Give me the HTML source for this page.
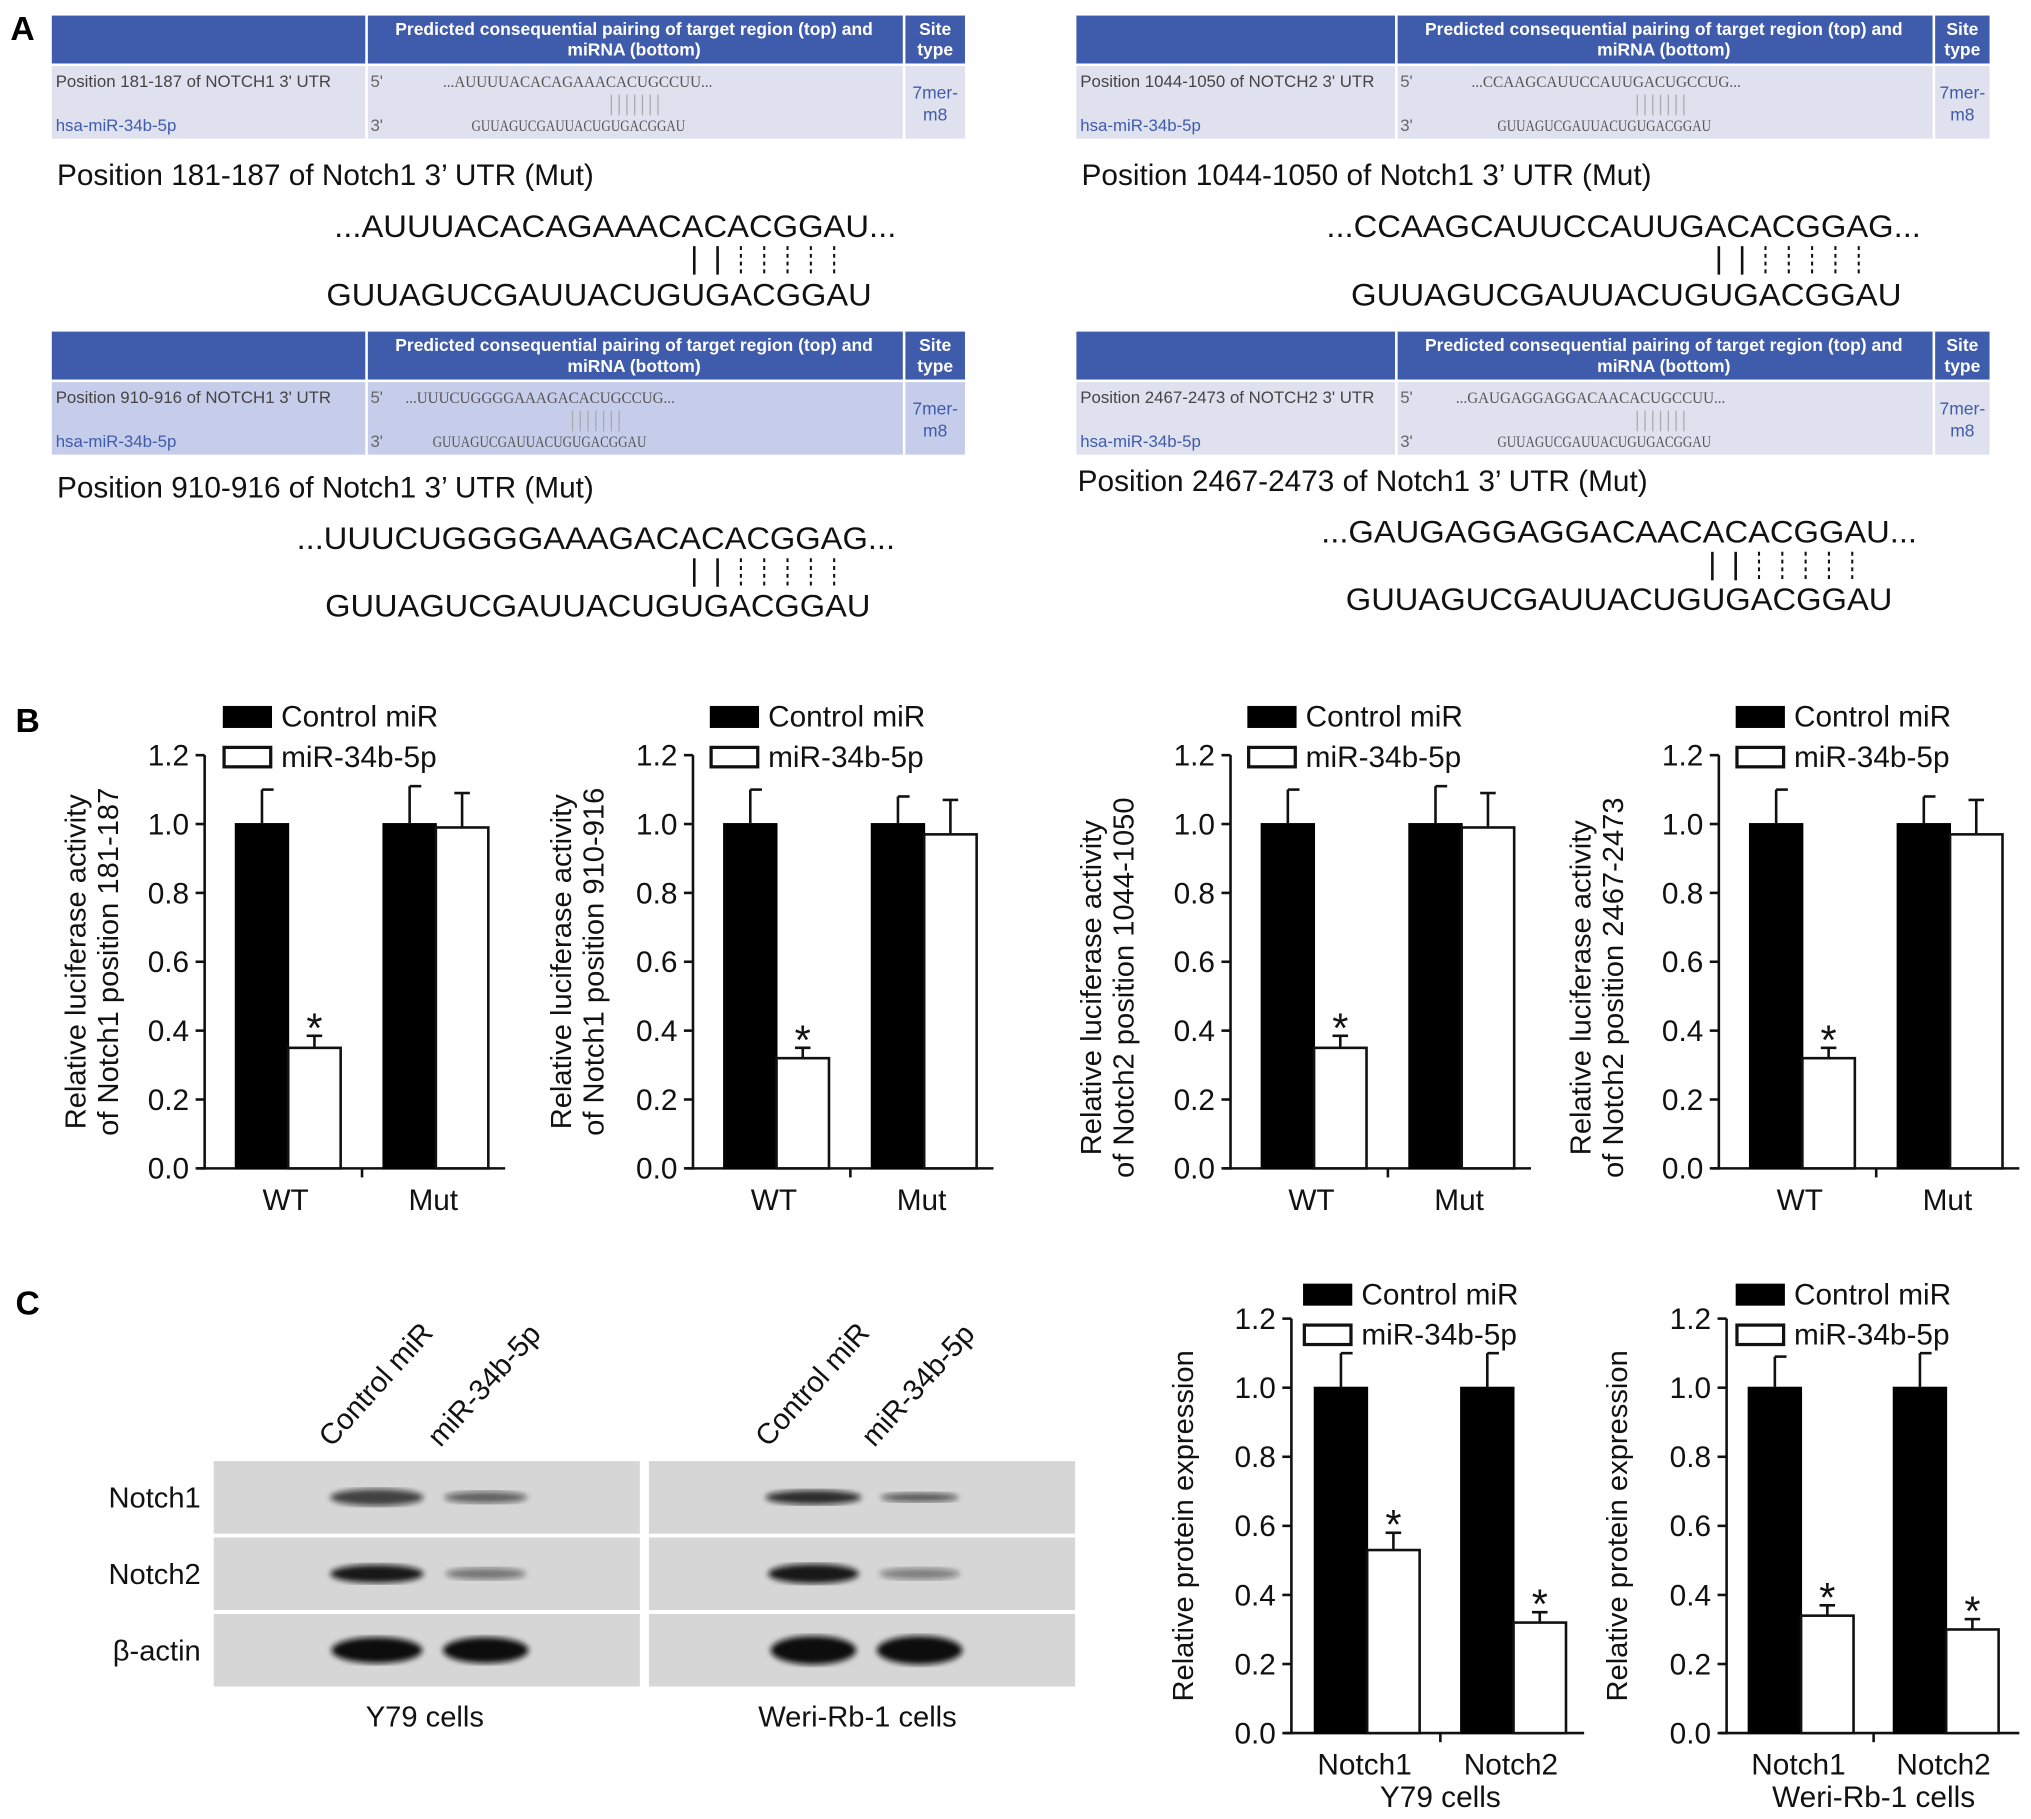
<!DOCTYPE html>
<html><head><meta charset="utf-8"><style>
html,body{margin:0;padding:0;background:#fff;}
svg{display:block;font-family:"Liberation Sans",Arial,sans-serif;}
</style></head><body>
<svg id="fig" width="2031" height="1819" viewBox="0 0 1568 1404.3" xmlns="http://www.w3.org/2000/svg">
<rect width="1568" height="1404.3" fill="#fff"/>
<g id="panelA"></g>
<g id="panelB"></g>
<g id="panelC"></g>
<text x="8" y="31" font-size="26" font-weight="bold">A</text>
<text x="12" y="565" font-size="26" font-weight="bold">B</text>
<text x="12" y="1015" font-size="26" font-weight="bold">C</text>
</svg>
<script>
const NS="http://www.w3.org/2000/svg";
function mk(parent,tag,attrs,text){const e=document.createElementNS(NS,tag);for(const k in attrs)e.setAttribute(k,attrs[k]);if(text!==undefined)e.textContent=text;parent.appendChild(e);return e;}

// ---------- Panel A data ----------
const tableTitles=["Position 181-187 of NOTCH1 3' UTR","Position 1044-1050 of NOTCH2 3' UTR","Position 910-916 of NOTCH1 3' UTR","Position 2467-2473 of NOTCH2 3' UTR"];
const tableTop=["...AUUUUACACAGAAACACUGCCUU...","...CCAAGCAUUCCAUUGACUGCCUG...","...UUUCUGGGGAAAGACACUGCCUG...","...GAUGAGGAGGACAACACUGCCUU..."];
const mutTitles=["Position 181-187 of Notch1 3’ UTR (Mut)","Position 1044-1050 of Notch1 3’ UTR (Mut)","Position 910-916 of Notch1 3’ UTR (Mut)","Position 2467-2473 of Notch1 3’ UTR (Mut)"];
const mutSeqs=["...AUUUACACAGAAACACACGGAU...","...CCAAGCAUUCCAUUGACACGGAG...","...UUUCUGGGGAAAGACACACGGAG...","...GAUGAGGAGGACAACACACGGAU..."];
const mirSeq="GUUAGUCGAUUACUGUGACGGAU";

const A=document.getElementById('panelA');
const blocks=[
 {x:40,c1:282,c2:697,r:745,ty:12,rowBg:"#dfe1ef",tt:143,tx:44,sx1:258,sx2:692,sy:183,lx:536,bx1:252,bx2:673,by:236,t1:342,t2:364},
 {x:831,c1:1077,c2:1492,r:1536,ty:12,rowBg:"#dfe1ef",tt:143,tx:835,sx1:1024,sx2:1483,sy:183,lx:1327,bx1:1043,bx2:1468,by:236,t1:1136,t2:1156},
 {x:40,c1:282,c2:697,r:745,ty:256,rowBg:"#c6cdea",tt:384,tx:44,sx1:229,sx2:691,sy:424,lx:536,bx1:251,bx2:672,by:476,t1:313,t2:334},
 {x:831,c1:1077,c2:1492,r:1536,ty:256,rowBg:"#dfe1ef",tt:379,tx:832,sx1:1020,sx2:1480,sy:419,lx:1322,bx1:1039,bx2:1461,by:471,t1:1124,t2:1156}
];
blocks.forEach((b,i)=>{
 const g=mk(A,'g',{});
 
 
 const hdr=mk(g,'rect',{x:b.x,y:b.ty,width:b.r-b.x,height:37,fill:"#3f5bab"});
 
 mk(g,'line',{x1:b.c1+1,y1:b.ty,x2:b.c1+1,y2:b.ty+95,stroke:"#fff","stroke-width":2});
 mk(g,'line',{x1:b.c2+1,y1:b.ty,x2:b.c2+1,y2:b.ty+95,stroke:"#fff","stroke-width":2});
 const row=mk(g,'rect',{x:b.x,y:b.ty+39,width:b.r-b.x,height:56,fill:b.rowBg});
 
 mk(g,'line',{x1:b.c1+1,y1:b.ty+39,x2:b.c1+1,y2:b.ty+95,stroke:"#fff","stroke-width":2});
 mk(g,'line',{x1:b.c2+1,y1:b.ty+39,x2:b.c2+1,y2:b.ty+95,stroke:"#fff","stroke-width":2});
 const cm=(b.c1+b.c2)/2;
 mk(g,'text',{x:cm,y:b.ty+15,"font-size":13.5,"font-weight":"bold",fill:"#fff","text-anchor":"middle"},"Predicted consequential pairing of target region (top) and");
 mk(g,'text',{x:cm,y:b.ty+31,"font-size":13.5,"font-weight":"bold",fill:"#fff","text-anchor":"middle"},"miRNA (bottom)");
 const sm=(b.c2+b.r)/2+1;
 mk(g,'text',{x:sm,y:b.ty+15,"font-size":13.5,"font-weight":"bold",fill:"#fff","text-anchor":"middle"},"Site");
 mk(g,'text',{x:sm,y:b.ty+31,"font-size":13.5,"font-weight":"bold",fill:"#fff","text-anchor":"middle"},"type");
 mk(g,'text',{x:b.x+3,y:b.ty+55,"font-size":13,fill:"#444"},tableTitles[i]);
 mk(g,'text',{x:b.x+3,y:b.ty+89,"font-size":13,fill:"#3f5bab"},"hsa-miR-34b-5p");
 mk(g,'text',{x:b.c1+4,y:b.ty+55,"font-size":13,fill:"#666"},"5'");
 mk(g,'text',{x:b.c1+4,y:b.ty+89,"font-size":13,fill:"#666"},"3'");
 mk(g,'text',{x:b.t1,y:b.ty+55,"font-size":12,fill:"#555","font-family":"Liberation Serif, serif",textLength:208,lengthAdjust:"spacingAndGlyphs"},tableTop[i]);
 mk(g,'text',{x:b.t2,y:b.ty+89,"font-size":12,fill:"#555","font-family":"Liberation Serif, serif",textLength:165,lengthAdjust:"spacingAndGlyphs"},"GUUAGUCGAUUACUGUGACGGAU");
 for(let k=0;k<7;k++)mk(g,'line',{x1:b.t2+108+k*6,y1:b.ty+61,x2:b.t2+108+k*6,y2:b.ty+77,stroke:"#aaa","stroke-width":1});
 mk(g,'text',{x:sm,y:b.ty+64,"font-size":13.5,fill:"#3f5bab","text-anchor":"middle"},"7mer-");
 mk(g,'text',{x:sm,y:b.ty+81,"font-size":13.5,fill:"#3f5bab","text-anchor":"middle"},"m8");
 const t=mk(g,'text',{x:b.tx,y:b.tt,"font-size":23,fill:"#111"},mutTitles[i]);
 
 mk(g,'text',{x:b.sx1,y:b.sy,"font-size":24.5,fill:"#111",textLength:b.sx2-b.sx1,lengthAdjust:"spacingAndGlyphs"},mutSeqs[i]);
 mk(g,'text',{x:b.bx1,y:b.by,"font-size":24.5,fill:"#111",textLength:b.bx2-b.bx1,lengthAdjust:"spacingAndGlyphs"},mirSeq);
 for(let k=0;k<7;k++){
  const x=b.lx+k*18;
  mk(g,'line',{x1:x,y1:b.sy+7,x2:x,y2:b.sy+29,stroke:"#111","stroke-width":k<2?2:1.6,"stroke-dasharray":k<2?"none":"3,3"});
 }
});

// ---------- Bar chart data ----------
const groupsB=["WT","Mut"];
const ctrlB1=[1.0,1.0], mirB1=[0.35,0.99], ctrlErrB1=[0.10,0.11], mirErrB1=[0.035,0.10];
const ctrlB2=[1.0,1.0], mirB2=[0.32,0.97], ctrlErrB2=[0.10,0.08], mirErrB2=[0.03,0.10];
const ctrlB3=[1.0,1.0], mirB3=[0.35,0.99], ctrlErrB3=[0.10,0.11], mirErrB3=[0.035,0.10];
const ctrlB4=[1.0,1.0], mirB4=[0.32,0.97], ctrlErrB4=[0.10,0.08], mirErrB4=[0.03,0.10];
const sigB=[[true,false],[true,false],[true,false],[true,false]];
const groupsC=["Notch1","Notch2"];
const ctrlC1=[1.0,1.0], mirC1=[0.53,0.32], ctrlErrC1=[0.10,0.10], mirErrC1=[0.05,0.03];
const ctrlC2=[1.0,1.0], mirC2=[0.34,0.30], ctrlErrC2=[0.09,0.10], mirErrC2=[0.03,0.03];
const sigC=[[true,true],[true,true]];
const yTicks=[0.0,0.2,0.4,0.6,0.8,1.0,1.2];
const yTickLabels=["0.0","0.2","0.4","0.6","0.8","1.0","1.2"];

function chart(parent,o){
 const g=mk(parent,'g',{});
 
 
 const yMax=1.2;
 const y=v=>o.y0-(v/yMax)*(o.y0-o.y1);
 const x0=o.ax, x1=o.ax+o.w;
 const bw=40.5;
 const gx=i=>o.ax+o.off+i*o.step;
 mk(g,'line',{x1:x0,y1:o.y1,x2:x0,y2:o.y0+1,stroke:"#111","stroke-width":2});
 mk(g,'line',{x1:x0-5,y1:o.y0,x2:x1,y2:o.y0,stroke:"#111","stroke-width":2});
 yTicks.forEach((t,i)=>{
  mk(g,'line',{x1:x0-7,y1:y(t),x2:x0,y2:y(t),stroke:"#111","stroke-width":2});
  const tl=mk(g,'text',{x:x0-12,y:y(t)+8,"font-size":23,"text-anchor":"end",fill:"#111"},yTickLabels[i]);
  
  
 });
 const mid=(gx(0)+bw*2+gx(1))/2;
 mk(g,'line',{x1:mid,y1:o.y0,x2:mid,y2:o.y0+7,stroke:"#111","stroke-width":2});
 o.groups.forEach((gn,i)=>{
  const bx=gx(i);
  const cb=mk(g,'rect',{x:bx,y:y(o.ctrl[i]),width:bw,height:y(0)-y(o.ctrl[i]),fill:"#000",stroke:"#000","stroke-width":1.5});
  
  
  mk(g,'line',{x1:bx+bw/2,y1:y(o.ctrl[i]),x2:bx+bw/2,y2:y(o.ctrl[i]+o.ctrlErr[i]),stroke:"#111","stroke-width":2});
  mk(g,'line',{x1:bx+bw/2,y1:y(o.ctrl[i]+o.ctrlErr[i]),x2:bx+bw/2+9,y2:y(o.ctrl[i]+o.ctrlErr[i]),stroke:"#111","stroke-width":2});
  const mb=mk(g,'rect',{x:bx+bw,y:y(o.mir[i]),width:bw,height:y(0)-y(o.mir[i]),fill:"#fff",stroke:"#111","stroke-width":2});
  
  
  const mx=bx+bw*1.5;
  mk(g,'line',{x1:mx,y1:y(o.mir[i]),x2:mx,y2:y(o.mir[i]+o.mirErr[i]),stroke:"#111","stroke-width":2});
  mk(g,'line',{x1:mx-6,y1:y(o.mir[i]+o.mirErr[i]),x2:mx+6,y2:y(o.mir[i]+o.mirErr[i]),stroke:"#111","stroke-width":2});
  if(o.sig[i]){
   const s=mk(g,'text',{x:mx,y:y(o.mir[i]+o.mirErr[i])+5,"font-size":32,"text-anchor":"middle",fill:"#111"},"*");
   
   
  }
  const xl=mk(g,'text',{x:bx+bw-2,y:o.y0+32,"font-size":23,"text-anchor":"middle",fill:"#111"},gn);
  
  
 });
 if(o.sub){
  const st=mk(g,'text',{x:(gx(0)+gx(1)+bw*2)/2,y:o.y0+57,"font-size":23,"text-anchor":"middle",fill:"#111"},o.sub);
  
  
 }
 const lx=o.legX, ly=o.legY;
 const l1=mk(g,'rect',{x:lx,y:ly,width:38,height:17,fill:"#000"});
 
 
 mk(g,'text',{x:lx+45,y:ly+16,"font-size":23,fill:"#111"},"Control miR");
 const l2=mk(g,'rect',{x:lx+1,y:ly+32,width:36,height:15,fill:"#fff",stroke:"#111","stroke-width":2.5});
 
 
 mk(g,'text',{x:lx+45,y:ly+47,"font-size":23,fill:"#111"},"miR-34b-5p");
 const cy=(o.y0+o.y1)/2+o.tyShift;
 o.title.forEach((line,k)=>{
  const tx=o.tx+k*25;
  const yt=mk(g,'text',{x:tx,y:cy,"font-size":22.5,"text-anchor":"middle",fill:"#111",transform:`rotate(-90 ${tx} ${cy})`},line);
  
  
 });
}
const B=document.getElementById('panelB');
chart(B,{name:'chart-notch1-181-187',ax:158,w:232,off:24,step:114,y0:902,y1:583,groups:groupsB,ctrl:ctrlB1,mir:mirB1,ctrlErr:ctrlErrB1,mirErr:mirErrB1,sig:sigB[0],legX:172,legY:545,tx:66,tyShift:0,title:["Relative luciferase activity","of Notch1 position 181-187"]});
chart(B,{name:'chart-notch1-910-916',ax:535,w:232,off:24,step:114,y0:902,y1:583,groups:groupsB,ctrl:ctrlB2,mir:mirB2,ctrlErr:ctrlErrB2,mirErr:mirErrB2,sig:sigB[1],legX:548,legY:545,tx:441,tyShift:0,title:["Relative luciferase activity","of Notch1 position 910-916"]});
chart(B,{name:'chart-notch2-1044-1050',ax:950,w:232,off:24,step:114,y0:902,y1:583,groups:groupsB,ctrl:ctrlB3,mir:mirB3,ctrlErr:ctrlErrB3,mirErr:mirErrB3,sig:sigB[2],legX:963,legY:545,tx:850,tyShift:20,title:["Relative luciferase activity","of Notch2 position 1044-1050"]});
chart(B,{name:'chart-notch2-2467-2473',ax:1327,w:232,off:24,step:114,y0:902,y1:583,groups:groupsB,ctrl:ctrlB4,mir:mirB4,ctrlErr:ctrlErrB4,mirErr:mirErrB4,sig:sigB[3],legX:1340,legY:545,tx:1228,tyShift:20,title:["Relative luciferase activity","of Notch2 position 2467-2473"]});
const C=document.getElementById('panelC');
chart(C,{name:'chart-y79-protein',ax:997,w:226,off:18,step:113,y0:1338,y1:1018,groups:groupsC,ctrl:ctrlC1,mir:mirC1,ctrlErr:ctrlErrC1,mirErr:mirErrC1,sig:sigC[0],legX:1006,legY:991,tx:921,tyShift:0,sub:"Y79 cells",title:["Relative protein expression"]});
chart(C,{name:'chart-weri-protein',ax:1333,w:226,off:17,step:112,y0:1338,y1:1018,groups:groupsC,ctrl:ctrlC2,mir:mirC2,ctrlErr:ctrlErrC2,mirErr:mirErrC2,sig:sigC[1],legX:1340,legY:991,tx:1256,tyShift:0,sub:"Weri-Rb-1 cells",title:["Relative protein expression"]});

// ---------- Western blot ----------
const blotRows=["Notch1","Notch2","β-actin"];
const rowY=[1128,1187,1246];
const panels=[{x:165,name:"Y79 cells",cx:328,lanes:[291,375]},{x:501,name:"Weri-Rb-1 cells",cx:662,lanes:[628,710]}];
const bands=[
 [[[72,13,0.75],[64,9,0.6]],[[72,14,0.95],[62,9,0.5]],[[70,20,1],[66,20,1]]],
 [[[74,11,0.85],[60,7,0.65]],[[70,15,0.95],[62,9,0.45]],[[66,22,1],[66,22,1]]]
];
const wb=mk(C,'g',{});


const defs=mk(wb,'defs',{});
const f=mk(defs,'filter',{id:'blur'});mk(f,'feGaussianBlur',{stdDeviation:2.2});
panels.forEach((p,pi)=>{
 rowY.forEach((ry,ri)=>{
  mk(wb,'rect',{x:p.x,y:ry,width:329,height:56,fill:"#d6d6d6"});
  p.lanes.forEach((lx,li)=>{
   const [w,h,op]=bands[pi][ri][li];
   const band=mk(wb,'ellipse',{cx:lx,cy:ry+28,rx:w/2,ry:h/2,fill:"#111","fill-opacity":op,filter:"url(#blur)"});
   
   
  });
 });
 const pl=mk(wb,'text',{x:p.cx,y:1333,"font-size":22.5,"text-anchor":"middle",fill:"#111"},p.name);
 
 
 ["Control miR","miR-34b-5p"].forEach((t,li)=>{
  const ax=p.lanes[li]-35, ay=1118;
  const lt=mk(wb,'text',{x:ax,y:ay,"font-size":22.5,fill:"#111",transform:`rotate(-48 ${ax} ${ay})`},t);
  
  
 });
});
blotRows.forEach((r,i)=>{
 const rl=mk(wb,'text',{x:155,y:rowY[i]+36,"font-size":22.5,"text-anchor":"end",fill:"#111"},r);
 
 
});
</script>
</body></html>
